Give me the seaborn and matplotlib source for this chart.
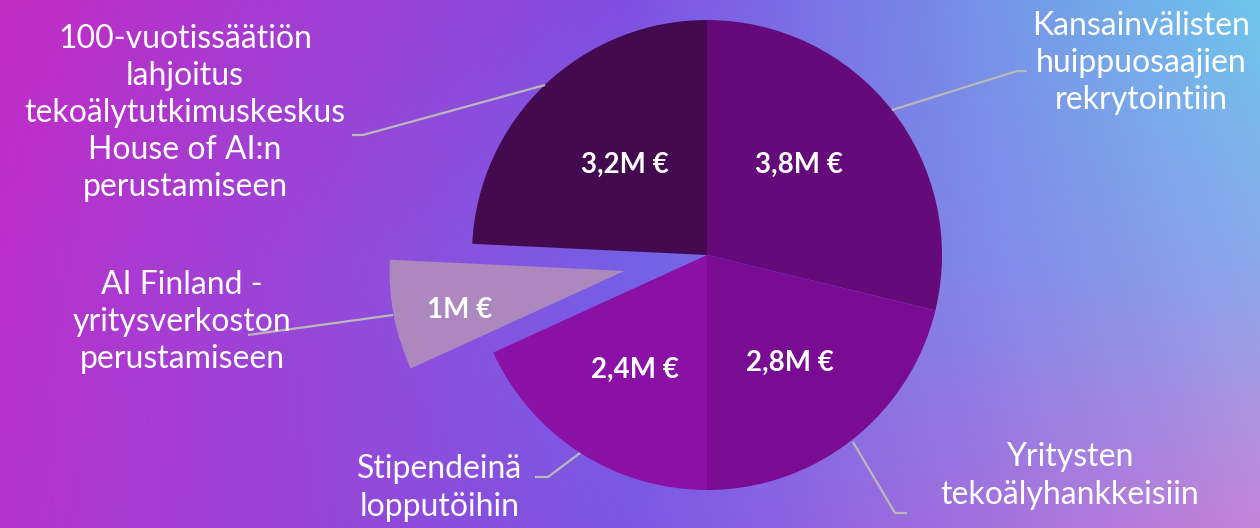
import numpy as np
import seaborn as sns
from matplotlib import pyplot as plt
from matplotlib.colors import to_rgb

sns.set_theme(style="white")
plt.rcParams["font.family"] = ["Lato", "DejaVu Sans"]

# data
categories = [
    "Kansainvälisten\nhuippuosaajien\nrekrytointiin",
    "Yritysten\ntekoälyhankkeisiin",
    "Stipendeinä\nlopputöihin",
    "AI Finland -\nyritysverkoston\nperustamiseen",
    "100-vuotissäätiön\nlahjoitus\ntekoälytutkimuskeskus\nHouse of AI:n\nperustamiseen",
]
values = [3.8, 2.8, 2.4, 1.0, 3.2]  # M €

COLORS = ["#650a7a", "#790c92", "#8a10a6", "#ac88bf", "#440a50"]

W, H = 1260, 528
CENTER = (707, H - 255)
RADIUS = 235
EXPLODE = [0, 0, 0, 84, 0]  # matplotlib takes this in data units here

# in-slice value labels (pixel coords, y from top)
value_pos = [(799, 165), (790, 363), (635, 370), (460, 310), (625, 165)]

# outside labels: text centre, leader polyline (pixel coords, y from top)
label_pos = [(1141, 63), (1070, 476), (440, 488), (182, 322), (185, 113)]
leaders = [
    [(892, 110), (1017, 71), (1027, 71)],
    [(853, 442), (895, 513), (907, 513)],
    [(580, 453), (548, 477), (535, 477)],
    [(393, 315), (248, 335)],
    [(545, 85), (363, 135), (352, 135)],
]


def background(ax):
    # 3x3 anchor colours, bilinear blend
    grid = np.array([
        [to_rgb("#c22cc4"), to_rgb("#8050e2"), to_rgb("#6ec6ec")],
        [to_rgb("#ba30cc"), to_rgb("#7460e6"), to_rgb("#8ca8ea")],
        [to_rgb("#b434cc"), to_rgb("#7a58e4"), to_rgb("#c484d8")],
    ])
    ny, nx = 132, 315
    gy = np.linspace(0, 2, ny)
    gx = np.linspace(0, 2, nx)
    iy = np.clip(gy.astype(int), 0, 1)
    ix = np.clip(gx.astype(int), 0, 1)
    fy = (gy - iy)[:, None, None]
    fx = (gx - ix)[None, :, None]
    c00 = grid[iy][:, ix]
    c01 = grid[iy][:, ix + 1]
    c10 = grid[iy + 1][:, ix]
    c11 = grid[iy + 1][:, ix + 1]
    img = (c00 * (1 - fx) * (1 - fy) + c01 * fx * (1 - fy)
           + c10 * (1 - fx) * fy + c11 * fx * fy)
    ax.imshow(img, extent=(0, W, 0, H), origin="upper", aspect="auto",
              interpolation="bilinear", zorder=0)


fig = plt.figure(figsize=(W / 100, H / 100), dpi=100)
ax = fig.add_axes([0, 0, 1, 1])
background(ax)

ax.pie(
    values,
    colors=COLORS,
    explode=EXPLODE,
    startangle=90,
    counterclock=False,
    center=CENTER,
    radius=RADIUS,
    wedgeprops=dict(linewidth=0),
    frame=True,
)

for v, (x, y) in zip(values, value_pos):
    ax.text(x, H - y, f"{v:g}".replace(".", ",") + "M €", color="white",
            fontsize=20, fontweight="bold", ha="center", va="center")

for name, (x, y), pts in zip(categories, label_pos, leaders):
    px = [p[0] for p in pts]
    py = [H - p[1] for p in pts]
    ax.plot(px, py, color="#b9b9b9", lw=1.6, solid_capstyle="butt", zorder=3)
    ax.text(x, H - y, name, color="white", fontsize=23, fontweight="normal",
            ha="center", va="center", linespacing=1.3, zorder=4)

ax.set_xlim(0, W)
ax.set_ylim(0, H)
ax.set_aspect("auto")
ax.axis("off")

plt.savefig("out.png", dpi=100)
